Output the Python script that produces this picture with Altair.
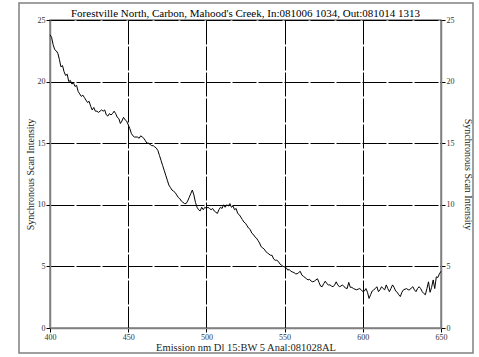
import altair as alt
import pandas as pd

nm = list(range(400, 651))
intensity = [
    23.8, 23.6, 23.0, 22.6, 22.5, 22.3, 21.8, 21.2, 21.3, 20.8,
    20.5, 20.6, 20.0, 20.1, 19.8, 19.9, 19.6, 19.7, 19.2, 19.0,
    18.8, 18.9, 18.7, 18.5, 18.3, 18.4, 18.0, 17.7, 17.9, 17.6,
    17.6, 17.5, 17.6, 17.7, 17.6, 17.7, 17.3, 17.2, 17.4, 17.3,
    17.4, 17.6, 17.4, 17.1, 17.0, 16.6, 16.8, 17.1, 16.9, 16.8,
    16.5, 16.2, 15.8, 15.6, 15.5, 15.5, 15.5, 15.4, 15.6, 15.5,
    15.4, 15.2, 15.0, 15.0, 14.9, 14.8, 14.8, 14.7, 14.6, 14.4,
    14.0, 13.6, 13.2, 12.8, 12.4, 12.0, 11.6, 11.4, 11.2, 11.1,
    11.0, 10.8, 10.6, 10.5, 10.3, 10.2, 10.1, 10.1, 10.3, 10.6,
    10.9, 11.2, 10.8, 10.2, 9.8, 9.6, 9.5, 9.8, 9.6, 9.8,
    9.7, 9.8, 9.7, 9.6, 9.7, 9.5, 9.4, 9.3, 9.6, 9.8,
    9.7, 10.0, 9.8, 10.0, 9.9, 10.1, 9.8, 9.9, 9.6, 9.7,
    9.3, 9.2, 9.0, 8.8, 8.6, 8.5, 8.3, 8.1, 8.0, 7.7,
    7.6, 7.4, 7.3, 7.1, 6.9, 6.6, 6.5, 6.4, 6.2, 6.1,
    6.0, 5.9, 5.9, 5.6, 5.5, 5.5, 5.4, 5.2, 5.1, 5.0,
    4.95, 4.9, 4.7, 4.75, 4.6, 4.55, 4.5, 4.4, 4.4, 4.5,
    4.6, 4.3, 4.2, 4.1, 4.0, 3.9, 3.95, 3.8, 3.75, 3.8,
    3.9, 4.0, 3.7, 3.4, 3.35, 3.6, 3.8, 3.6, 3.5, 3.5,
    3.4, 3.35, 3.5, 3.75, 3.5, 3.35, 3.4, 3.5, 3.35, 3.25,
    3.2, 3.7, 3.3, 3.3, 3.2, 3.15, 3.1, 3.15, 3.2, 3.1,
    2.95, 3.0, 3.2, 2.9, 2.4, 2.7, 3.0, 3.1, 3.2, 3.35,
    2.95, 3.1, 3.35, 3.2, 3.1, 3.5, 3.2, 2.95, 3.2, 3.5,
    3.3, 3.0, 2.9, 2.7, 2.55, 2.9, 3.1, 3.15, 3.2, 3.1,
    3.1, 3.25, 3.35, 3.1, 2.95, 3.2, 3.35, 3.2, 2.95, 2.8,
    2.7, 3.2, 3.75, 2.9, 3.3, 3.9, 3.2, 4.15, 4.1, 4.4,
    4.6,
]
x_ticks = [400, 450, 500, 550, 600, 650]
y_ticks = [0, 5, 10, 15, 20, 25]

title_text = "Forestville North, Carbon, Mahood's Creek, In:081006 1034, Out:081014 1313"
x_title = "Emission nm Dl 15:BW 5 Anal:081028AL"
y_title = "Synchronous Scan Intensity"

df = pd.DataFrame({"nm": nm, "val": intensity})

FONT = "Liberation Serif, Times New Roman, serif"
xscale = alt.Scale(domain=[400, 650], nice=False, zero=False)
yscale = alt.Scale(domain=[0, 25], nice=False)

xaxis = alt.Axis(values=x_ticks, title=x_title, grid=True, labelPadding=1,
                 titlePadding=1, titleFontSize=10.5, labelFlush=False)

line = alt.Chart(df).mark_line(color="black", strokeWidth=1).encode(
    x=alt.X("nm:Q", scale=xscale, axis=xaxis),
    y=alt.Y("val:Q", scale=yscale,
            axis=alt.Axis(values=y_ticks, orient="left", title=y_title, grid=True,
                          labelPadding=1, titlePadding=2, labelFlush=False)),
)

right = alt.Chart(df).mark_line(opacity=0).encode(
    x=alt.X("nm:Q", scale=xscale, axis=xaxis),
    y=alt.Y("val:Q", scale=yscale,
            axis=alt.Axis(values=y_ticks, orient="right", title=y_title, grid=False,
                          labelPadding=1, titlePadding=8, labelFlush=False)),
)

frame = alt.Chart(pd.DataFrame({"a": [0]})).mark_rect(
    fill=None, stroke="#808080", strokeWidth=1.5, clip=False
).encode(
    x=alt.value(-31), x2=alt.value(423), y=alt.value(-17), y2=alt.value(333)
)

title = alt.Chart(pd.DataFrame({"t": [title_text]})).mark_text(
    font=FONT, fontSize=11, color="black", align="center", baseline="alphabetic",
    clip=False
).encode(text="t:N", x=alt.value(195.5), y=alt.value(-3))

chart = alt.layer(line, right, frame, title).resolve_scale(y="independent").properties(
    width=391, height=308,
    padding={"left": 50, "top": 20, "right": 38, "bottom": 29},
    autosize="none",
).configure_axis(
    labelFont=FONT, labelFontSize=8, labelColor="#333333",
    titleFont=FONT, titleFontSize=10, titleFontWeight="normal", titleColor="#222222",
    tickColor="black", tickSize=4, tickWidth=1,
    domainColor="#808080", domainWidth=1.5,
    gridColor="black", gridDash=[24, 2], gridWidth=1, gridOpacity=1,
).configure_view(stroke="#808080", strokeWidth=1.5)

chart.save("out.html", embed_options={"renderer": "svg", "actions": False})
